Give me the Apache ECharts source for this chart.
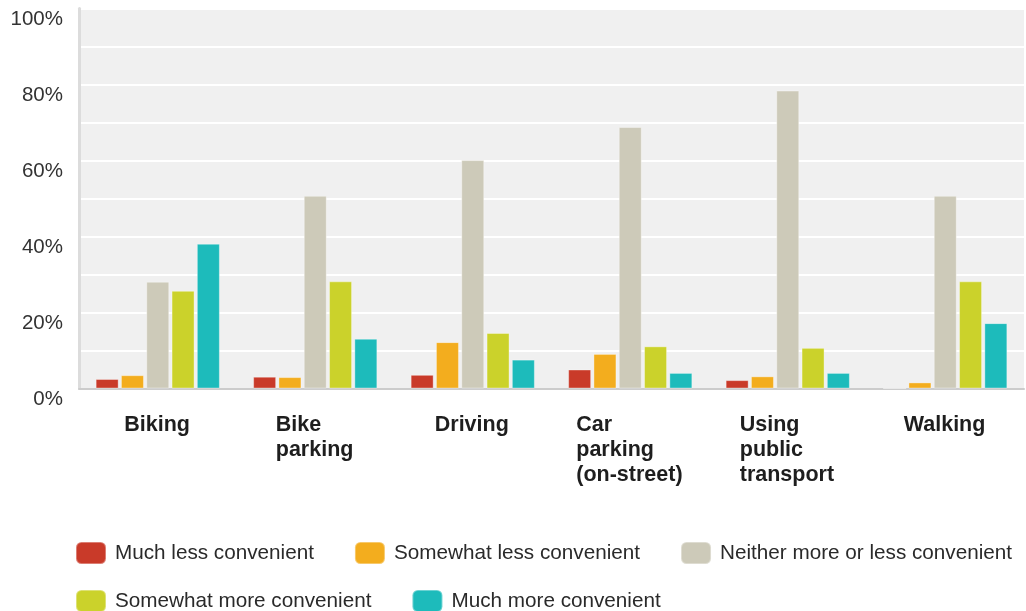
<!DOCTYPE html>
<html>
<head>
<meta charset="utf-8">
<script src="https://cdn.jsdelivr.net/npm/echarts@6/dist/echarts.min.js"></script>
<style>
html,body{margin:0;padding:0;background:#fff;}
#chart{width:1026px;height:611px;}
</style>
</head>
<body>
<div id="chart"></div>
<script>
const categories = ['Biking', 'Bike\nparking', 'Driving', 'Car\nparking\n(on-street)', 'Using\npublic\ntransport', 'Walking'];
const seriesNames = ['Much less convenient', 'Somewhat less convenient', 'Neither more or less convenient', 'Somewhat more convenient', 'Much more convenient'];
const muchLess = [2.5, 3.1, 3.6, 5.0, 2.2, 0];
const somewhatLess = [3.5, 3.0, 12.2, 9.1, 3.2, 1.6];
const neither = [28.1, 50.7, 60.1, 68.8, 78.4, 50.7];
const somewhatMore = [25.7, 28.2, 14.6, 11.1, 10.7, 28.2];
const muchMore = [38.1, 13.1, 7.6, 4.1, 4.1, 17.2];
const yTicks = [0, 20, 40, 60, 80, 100];

const colors = ['#c93a29', '#f3ad1e', '#cdcab9', '#cbd22b', '#1dbbbb'];
const values = [muchLess, somewhatLess, neither, somewhatMore, muchMore];

const catFont = 'bold 21.5px "Liberation Sans", Arial, sans-serif';
const ctx = document.createElement('canvas').getContext('2d');
ctx.font = catFont;
const rich = {};
categories.forEach((c, i) => {
  const w = Math.max(...c.split('\n').map(l => ctx.measureText(l).width));
  rich['c' + i] = {
    width: Math.ceil(w) + 1, align: 'left', fontWeight: 'bold', fontSize: 21.5,
    fontFamily: '"Liberation Sans", Arial, sans-serif', color: '#1e1e1e', lineHeight: 25
  };
});

const chart = echarts.init(document.getElementById('chart'), null, {renderer: 'canvas'});
const legendText = {fontSize: 20.7, color: '#2a2a2a', fontFamily: '"Liberation Sans", Arial, sans-serif', padding: [0, 0, 0, 4]};
chart.setOption({
  animation: false,
  backgroundColor: '#fff',
  grid: {left: 79, right: 2, top: 8.5, bottom: 222.5, show: true, backgroundColor: '#f0f0f0', borderWidth: 0},
  legend: [
    {data: seriesNames.slice(0, 3), left: 75, top: 541, padding: 0, itemWidth: 30, itemHeight: 22, itemGap: 40,
     icon: 'roundRect', textStyle: legendText},
    {data: seriesNames.slice(3), left: 75, top: 589, padding: 0, itemWidth: 30, itemHeight: 22, itemGap: 40,
     icon: 'roundRect', textStyle: legendText}
  ],
  xAxis: {
    type: 'category', data: categories,
    axisLine: {show: true, lineStyle: {color: '#cccccc', width: 2}},
    axisTick: {show: false},
    axisLabel: {
      interval: 0, margin: 24, align: 'center',
      formatter: (v, idx) => v.split('\n').map(l => '{c' + idx + '|' + l + '}').join('\n'),
      rich: rich
    },
    splitLine: {show: false}
  },
  yAxis: {
    type: 'value', min: 0, max: 100, interval: 10,
    axisLine: {show: true, lineStyle: {color: '#dcdcdc', width: 3}},
    axisTick: {show: false},
    axisLabel: {
      margin: 16, fontSize: 20.5, color: '#333', fontFamily: '"Liberation Sans", Arial, sans-serif',
      verticalAlign: 'top', lineHeight: 18, padding: [2, 0, 0, 0],
      formatter: v => yTicks.includes(v) ? v + '%' : ''
    },
    splitLine: {show: true, lineStyle: {color: '#ffffff', width: 2}}
  },
  series: seriesNames.map((name, i) => ({
    name: name, type: 'bar', data: values[i], barWidth: 23, barGap: '10%',
    itemStyle: {color: colors[i], borderColor: 'rgba(255,255,255,0.35)', borderWidth: 1}
  }))
});
</script>
</body>
</html>
